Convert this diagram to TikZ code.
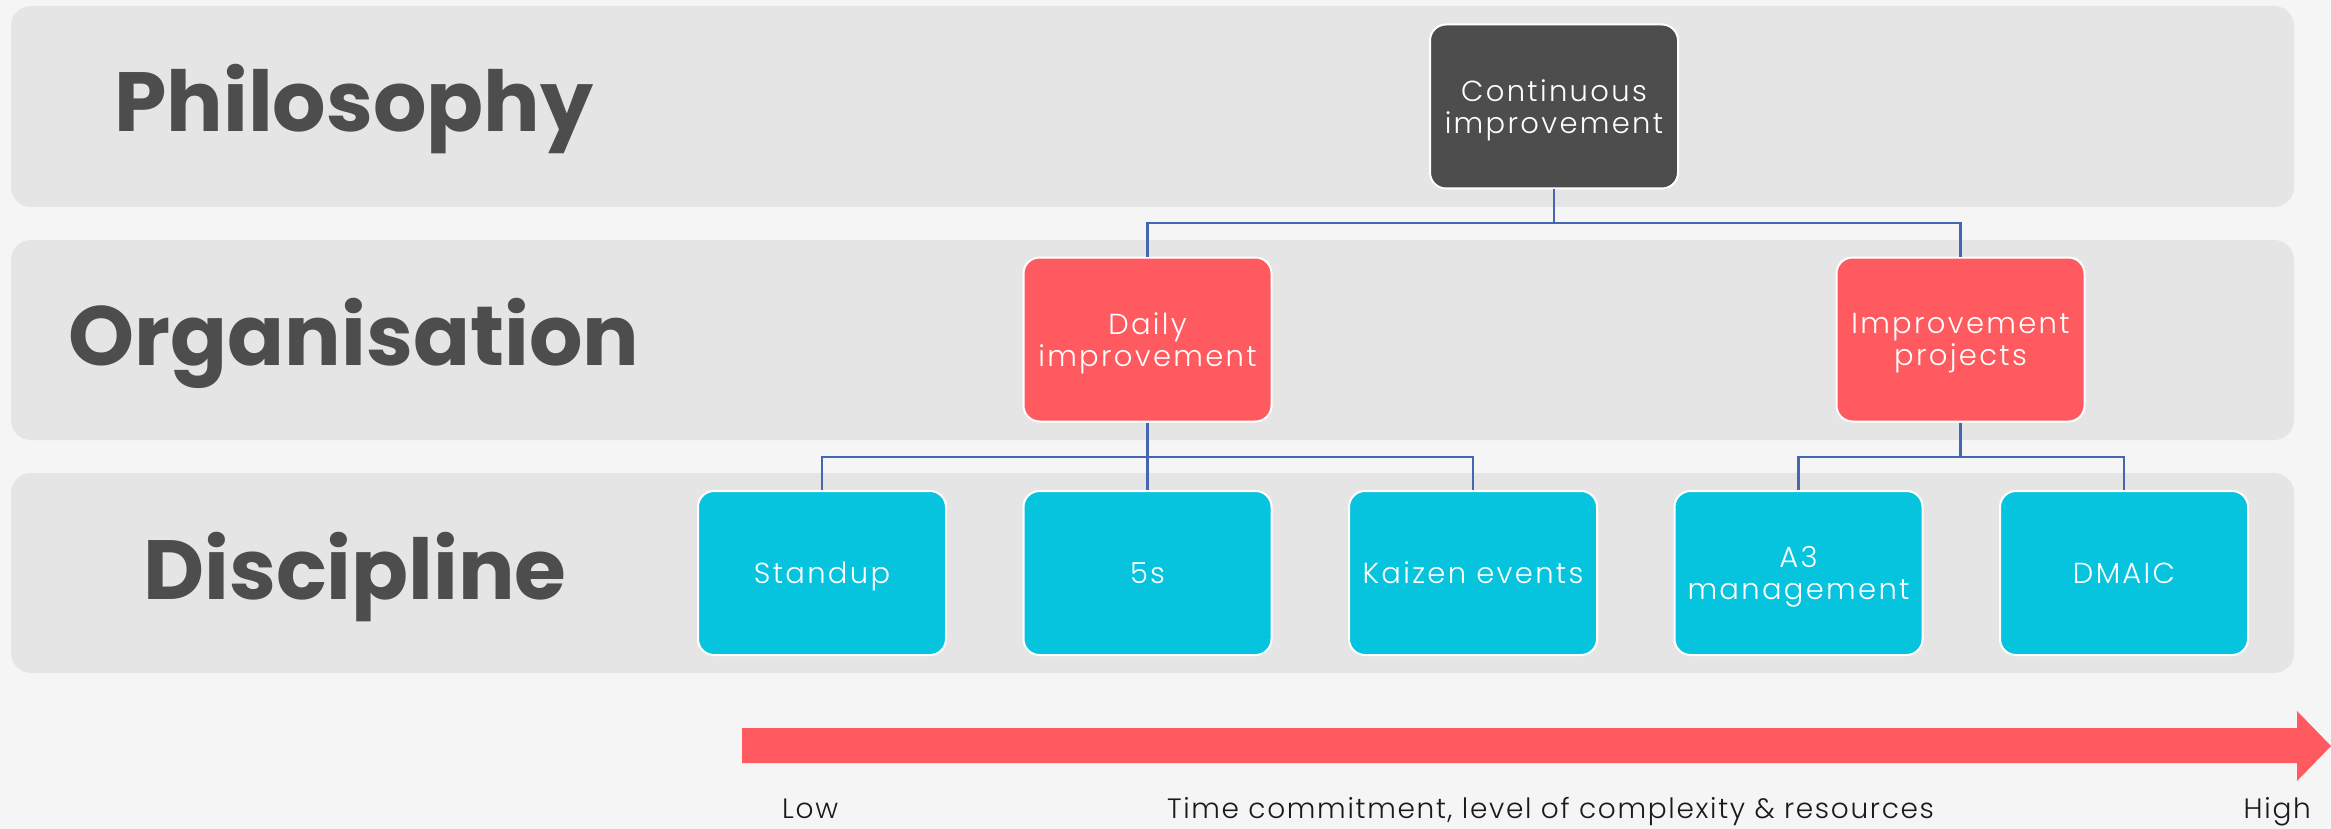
\documentclass[tikz,border=0pt]{standalone}
\usepackage{fontspec}
\newfontfamily\titlefont{Poppins Bold}
\newfontfamily\boxfont{Poppins Light}[LetterSpace=8]
\newfontfamily\axisfont{Poppins Light}[LetterSpace=6]

\definecolor{pagebg}{HTML}{F5F5F5}
\definecolor{bandgray}{HTML}{E5E5E5}
\definecolor{darkgray}{HTML}{4D4D4D}
\definecolor{coral}{HTML}{FF5A5F}
\definecolor{cyanbox}{HTML}{06C3DE}
\definecolor{linkblue}{HTML}{4567B1}
\definecolor{axistext}{HTML}{1A1A1A}

\tikzset{
  band/.style={fill=bandgray, rounded corners=20pt},
  level/.style={font=\titlefont\fontsize{84}{92}\selectfont, text=darkgray, anchor=base, inner sep=0pt},
  card/.style={draw=white, line width=2pt, rounded corners=16pt,
    minimum width=248pt, minimum height=164pt, inner sep=0pt, text depth=0pt,
    text=white, align=center, font=\boxfont\fontsize{29}{31.5}\selectfont},
  philo/.style={card, fill=darkgray},
  orga/.style={card, fill=coral},
  disci/.style={card, fill=cyanbox},
  link/.style={draw=linkblue, line width=2.6pt},
  axislabel/.style={font=\axisfont\fontsize{28}{30}\selectfont, text=axistext, inner sep=0pt}
}

\begin{document}
\begin{tikzpicture}[x=1pt, y=-1pt]
  % canvas
  \fill[pagebg] (0,0) rectangle (2331,829);
  \useasboundingbox (0,0) rectangle (2331,829);

  % three horizontal bands
  \fill[band] (11,6) rectangle (2294,207);
  \fill[band] (11,240) rectangle (2294,440);
  \fill[band] (11,473) rectangle (2294,673);

  % band titles
  \node[level] (philosophy) at (354,132) {Philosophy};
  \node[level] (organisation) at (354,365) {Organisation};
  \node[level] (discipline) at (355,599) {Discipline};

  % tree nodes
  \node[philo] (ci) at (1554,106.5) {Continuous\\improvement};
  \node[orga] (daily) at (1147.5,339.5) {Daily\\improvement};
  \node[orga] (projects) at (1960.5,339.5) {Improvement\\projects};
  \node[disci] (standup) at (822,573) {Standup};
  \node[disci] (fives) at (1147.5,573) {5s};
  \node[disci] (kaizen) at (1473,573) {Kaizen events};
  \node[disci] (a3) at (1798.5,573) {A3\\management};
  \node[disci] (dmaic) at (2124,573) {DMAIC};

  % junctions of the connectors
  \coordinate (jtop) at (1554,223);
  \coordinate (jdaily) at (1147.5,457);
  \coordinate (jproj) at (1960.5,457);

  % connectors
  \draw[link] (ci.south) -- (jtop) -| (daily.north);
  \draw[link] (jtop) -| (projects.north);
  \draw[link] (daily.south) -- (jdaily) -| (standup.north);
  \draw[link] (jdaily) -- (fives.north);
  \draw[link] (jdaily) -| (kaizen.north);
  \draw[link] (projects.south) -- (jproj) -| (a3.north);
  \draw[link] (jproj) -| (dmaic.north);

  % scale arrow
  \fill[coral] (742,728) -- (2297,728) -- (2297,711) -- (2331,746)
    -- (2297,781) -- (2297,763) -- (742,763) -- cycle;

  % scale labels
  \node[axislabel, anchor=base west] (low) at (782,818) {Low};
  \node[axislabel, anchor=base] (scale) at (1550.5,818) {Time commitment, level of complexity \& resources};
  \node[axislabel, anchor=base east] (high) at (2311,818) {High};
\end{tikzpicture}
\end{document}
